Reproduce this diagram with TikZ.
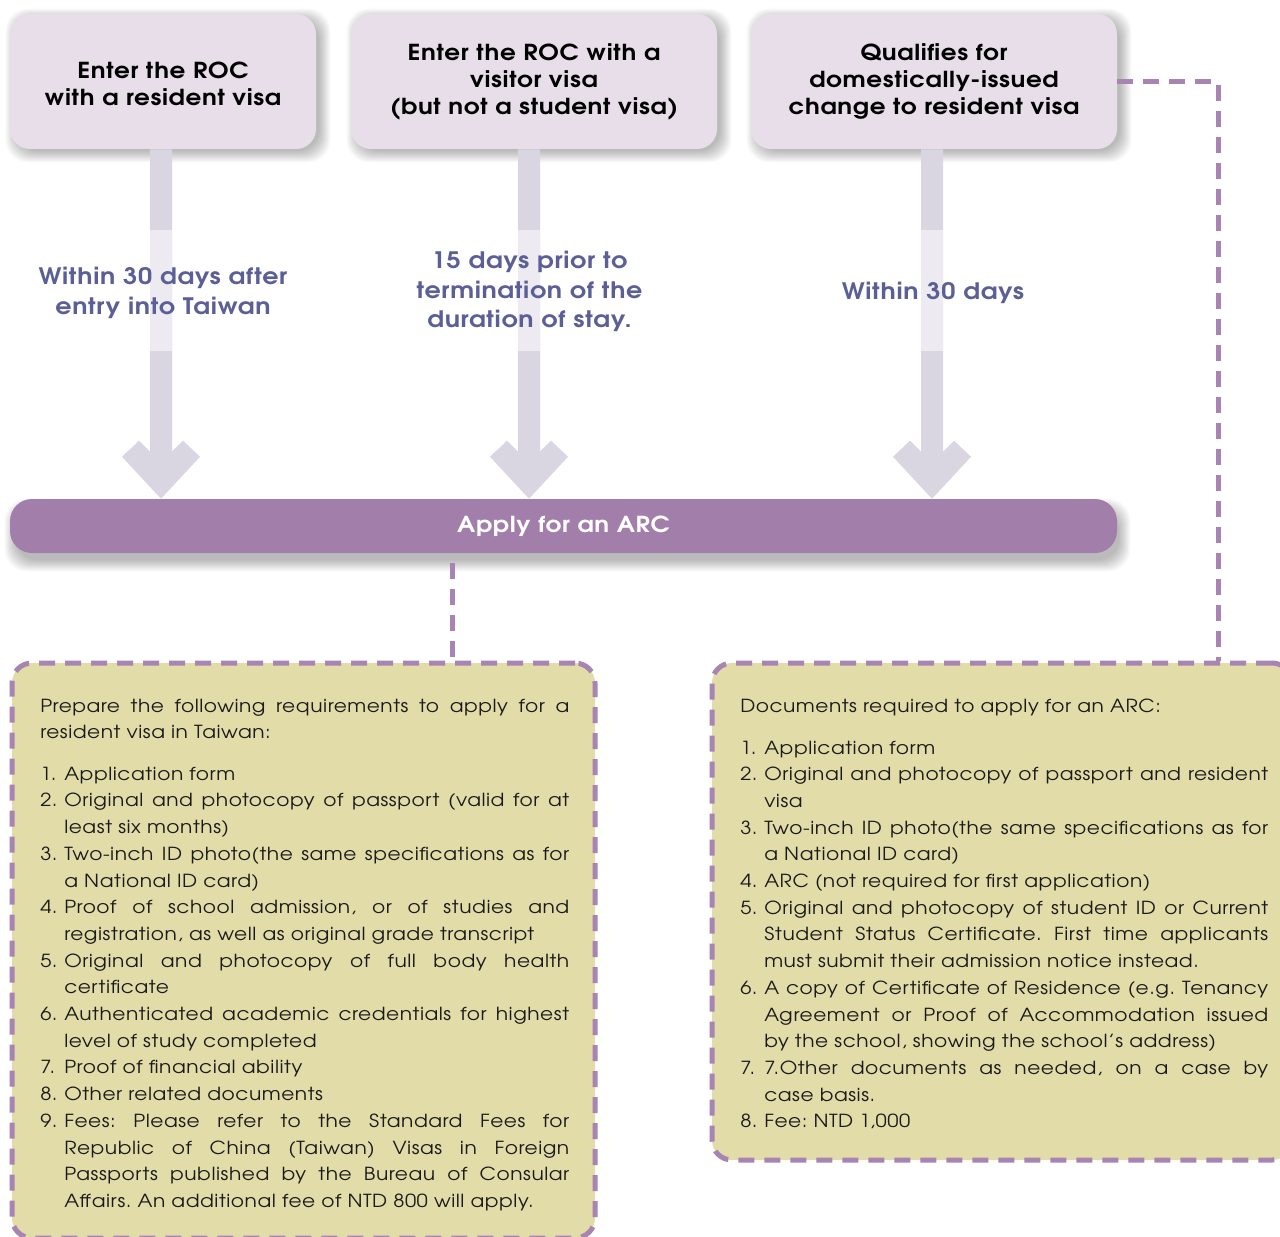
\documentclass[tikz,border=0pt]{standalone}
\usepackage{fontspec}
\setmainfont{texgyreadventor}[Extension=.otf, UprightFont=*-regular, BoldFont=*-bold, ItalicFont=*-italic, BoldItalicFont=*-bolditalic, FakeStretch=1.12, LetterSpace=3]
\usetikzlibrary{calc}
\pgfdeclarelayer{shadowlayer}
\pgfsetlayers{shadowlayer,main}
\newdimen\pxu \pxu=0.75pt
\definecolor{hdrfill}{HTML}{E8DEEA}
\definecolor{arrowcol}{HTML}{D9D6E1}
\definecolor{arrowlight}{HTML}{EDEBF1}
\definecolor{lblcol}{HTML}{5C5F96}
\definecolor{barcol}{HTML}{A27EAA}
\definecolor{dashcol}{HTML}{A884B3}
\definecolor{khaki}{HTML}{E2DCA8}
\definecolor{bodytext}{HTML}{1A1A1A}
\newcommand\J[1]{\hbox to \hsize{#1}}
\newcommand\Lf[1]{\hbox to \hsize{#1\hfil}}
\newcommand\N[1]{\hbox to 24\pxu{#1\hfil}}
\newcommand\Ind{\hbox to 24\pxu{}}
\newcommand\cl[1]{\hbox to 0pt{\hss#1\hss}}
\tikzset{
  hdrbox/.style={rounded corners=20\pxu, fill=hdrfill, inner sep=0pt, minimum height=135\pxu},
  hdrtext/.style={inner sep=0pt, anchor=base, text=black, font=\fontsize{16.5}{20}\bfseries\selectfont},
  lbltext/.style={inner sep=0pt, anchor=base, text=lblcol, font=\fontsize{17}{20}\bfseries\selectfont},
  barbox/.style={rounded corners=22\pxu, fill=barcol, inner sep=0pt, text=white,
    minimum width=1107\pxu, minimum height=54\pxu,
    font=\fontsize{16.5}{20}\bfseries\selectfont},
  docbox/.style={rounded corners=20\pxu, fill=khaki, draw=dashcol, line width=5\pxu,
    dash pattern=on 16\pxu off 10\pxu, inner sep=0pt},
  dashcon/.style={draw=dashcol, line width=5\pxu, dash pattern=on 16\pxu off 10\pxu},
  bodytxt/.style={inner sep=0pt, anchor=base west, text=bodytext, font=\fontsize{13.5}{20}\selectfont\frenchspacing},
  shadowfill/.style={fill=black, fill opacity=0.022},
}
% soft shadow behind a node: #1 node, #2 dx, #3 dy
\newcommand\softshadow[3]{%
  \begin{pgfonlayer}{shadowlayer}
  \foreach \i in {-2,...,9}{%
    \fill[shadowfill, rounded corners=22\pxu]
      ($(#1.south west)+(#2-\i,#3+\i)$) rectangle ($(#1.north east)+(#2+\i,#3-\i)$);}
  \end{pgfonlayer}}
\newcommand\fatarrow[2]{%
  \fill[arrowcol] ($(#1)+(-11,0)$) -- ($(#2)+(-11,-47)$) -- ($(#2)+(-22,-58)$)
    -- ($(#2)+(-39,-42)$) -- (#2) -- ($(#2)+(39,-42)$) -- ($(#2)+(22,-58)$)
    -- ($(#2)+(11,-47)$) -- ($(#1)+(11,0)$) -- cycle;
  \fill[arrowlight] ($(#1)+(-11,81)$) rectangle ($(#1)+(11,202)$);}
\begin{document}
\begin{tikzpicture}[x=0.75pt,y=-0.75pt]
\useasboundingbox (0,0) rectangle (1280,1237);
\clip (0,0) rectangle (1280,1237);
\begin{pgfonlayer}{shadowlayer}
\fill[white] (0,0) rectangle (1280,1237);
\end{pgfonlayer}

% header boxes
\node[hdrbox, minimum width=306\pxu] (b1) at (163,81.5) {};
\node[hdrbox, minimum width=366\pxu] (b2) at (534,81.5) {};
\node[hdrbox, minimum width=366\pxu] (b3) at (934,81.5) {};
\softshadow{b1}{5}{4}
\softshadow{b2}{5}{4}
\softshadow{b3}{5}{4}
\node[hdrtext] (t1) at (163,79) {\vtop{\baselineskip=27\pxu\cl{Enter the ROC}\cl{with a resident visa}}};
\node[hdrtext] (t2) at (534,61) {\vtop{\baselineskip=27\pxu\cl{Enter the ROC with a}\cl{visitor visa}\cl{(but not a student visa)}}};
\node[hdrtext] (t3) at (934,61) {\vtop{\baselineskip=27\pxu\cl{Qualifies for}\cl{domestically-issued}\cl{change to resident visa}}};

% bar
\node[barbox] (bar) at (563.5,526) {Apply for an ARC};
\softshadow{bar}{4}{9}

% arrows
\coordinate (a1top) at ($(b1.south)+(-2,0)$);
\coordinate (a2top) at ($(b2.south)+(-5,0)$);
\coordinate (a3top) at ($(b3.south)+(-2,0)$);
\coordinate (a1tip) at (a1top |- bar.north);
\coordinate (a2tip) at (a2top |- bar.north);
\coordinate (a3tip) at (a3top |- bar.north);
\fatarrow{a1top}{a1tip}
\fatarrow{a2top}{a2tip}
\fatarrow{a3top}{a3tip}

% arrow labels
\node[lbltext] (l1) at (163,285) {\vtop{\baselineskip=29.5\pxu\cl{Within 30 days after}\cl{entry into Taiwan}}};
\node[lbltext] (l2) at (529.5,269) {\vtop{\baselineskip=29.5\pxu\cl{15 days prior to}\cl{termination of the}\cl{duration of stay.}}};
\node[lbltext] (l3) at (933,300) {\vtop{\baselineskip=29.5\pxu\cl{Within 30 days}}};

% document boxes
\node[docbox, minimum width=583\pxu, minimum height=575\pxu] (lbox) at (303.5,950.5) {};
\node[docbox, minimum width=580\pxu, minimum height=497\pxu] (rbox) at (1002,911.5) {};

% dashed connectors
\coordinate (d1) at (452,0);
\coordinate (d2) at (1218,0);
\draw[dashcon] ($(bar.south -| d1)+(0,10)$) -- (lbox.north -| d1);
\draw[dashcon] (b3.east) -| (rbox.north -| d2);

% left text
\node[bodytxt] (ltext) at (40,712) {\vtop{\hsize=529\pxu\baselineskip=26.7\pxu
\J{Prepare the following requirements to apply for a}
\Lf{resident visa in Taiwan:}
\vskip 14.8\pxu
\Lf{\N{1.}Application form}
\J{\N{2.}Original and photocopy of passport (valid for at}
\Lf{\Ind least six months)}
\J{\N{3.}Two-inch ID photo(the same specifications as for}
\Lf{\Ind a National ID card)}
\J{\N{4.}Proof of school admission, or of studies and}
\Lf{\Ind registration, as well as original grade transcript}
\J{\N{5.}Original and photocopy of full body health}
\Lf{\Ind certificate}
\J{\N{6.}Authenticated academic credentials for highest}
\Lf{\Ind level of study completed}
\Lf{\N{7.}Proof of financial ability}
\Lf{\N{8.}Other related documents}
\J{\N{9.}Fees: Please refer to the Standard Fees for}
\J{\Ind Republic of China (Taiwan) Visas in Foreign}
\J{\Ind Passports published by the Bureau of Consular}
\Lf{\Ind Affairs. An additional fee of NTD 800 will apply.}
}};

% right text
\node[bodytxt] (rtext) at (740,712) {\vtop{\hsize=528\pxu\baselineskip=26.7\pxu
\Lf{Documents required to apply for an ARC:}
\vskip 15.3\pxu
\Lf{\N{1.}Application form}
\J{\N{2.}Original and photocopy of passport and resident}
\Lf{\Ind visa}
\J{\N{3.}Two-inch ID photo(the same specifications as for}
\Lf{\Ind a National ID card)}
\Lf{\N{4.}ARC (not required for first application)}
\J{\N{5.}Original and photocopy of student ID or Current}
\J{\Ind Student Status Certificate. First time applicants}
\Lf{\Ind must submit their admission notice instead.}
\J{\N{6.}A copy of Certificate of Residence (e.g. Tenancy}
\J{\Ind Agreement or Proof of Accommodation issued}
\Lf{\Ind by the school, showing the school's address)}
\J{\N{7.}7.Other documents as needed, on a case by}
\Lf{\Ind case basis.}
\Lf{\N{8.}Fee: NTD 1,000}
}};
\end{tikzpicture}
\end{document}
